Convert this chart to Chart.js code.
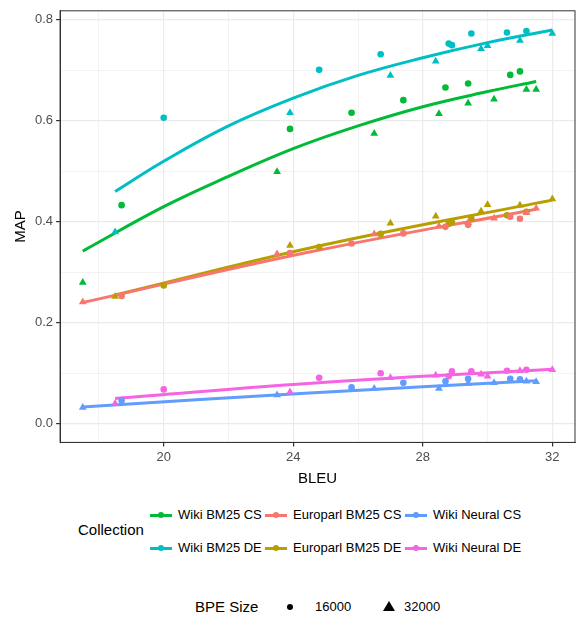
<!DOCTYPE html>
<html>
<head>
<meta charset="utf-8">
<script src="https://cdn.jsdelivr.net/npm/chart.js@4"></script>
<style>
  body { margin: 0; background: #fff; font-family: "Liberation Sans", Arial, sans-serif; }
  #wrap { position: relative; width: 581px; height: 619px; }
  #plot { position: absolute; left: 0; top: 0; width: 581px; height: 492px; }
  .lg { position: absolute; font-size: 13px; color: #000; white-space: nowrap; }
  .sw { position: absolute; width: 22px; height: 3px; }
  .dot { position: absolute; width: 6px; height: 6px; border-radius: 3px; background: #000; }
</style>
</head>
<body>
<div id="wrap">
  <div id="plot"><canvas id="c"></canvas></div>
  <div id="legend"></div>
</div>
<script>
// ---- data ----
const collections = ['Wiki BM25 CS', 'Wiki BM25 DE', 'Europarl BM25 CS', 'Europarl BM25 DE', 'Wiki Neural CS', 'Wiki Neural DE'];
const colors = ['#00BA38', '#00BFC4', '#F8766D', '#B79F00', '#619CFF', '#F564E3'];

// points BPE 16000 (circles) / 32000 (triangles), [bleu, map]
const wikiCs16 = [[18.7,0.433],[23.9,0.584],[25.8,0.616],[27.4,0.641],[28.7,0.666],[29.4,0.674],[30.7,0.691],[31.0,0.698]];
const wikiCs32 = [[17.5,0.28],[23.5,0.499],[26.5,0.575],[28.5,0.614],[29.4,0.635],[30.2,0.643],[31.2,0.662],[31.5,0.662]];
const wikiDe16 = [[20.0,0.606],[24.8,0.701],[26.7,0.732],[28.8,0.753],[28.9,0.750],[29.5,0.773],[30.6,0.775],[31.2,0.778]];
const wikiDe32 = [[18.5,0.38],[23.9,0.616],[27.0,0.69],[28.4,0.718],[29.8,0.743],[30.0,0.749],[31.0,0.759],[32.0,0.773]];
const euroCs16 = [[18.7,0.253],[23.9,0.338],[25.8,0.357],[27.4,0.377],[28.7,0.39],[29.4,0.394],[30.7,0.41],[31.0,0.406]];
const euroCs32 = [[17.5,0.241],[23.5,0.336],[26.5,0.376],[28.5,0.391],[29.4,0.398],[30.2,0.407],[31.2,0.418],[31.5,0.427]];
const euroDe16 = [[20.0,0.274],[24.8,0.35],[26.7,0.376],[28.8,0.396],[28.9,0.399],[29.5,0.406],[30.6,0.413],[31.2,0.42]];
const euroDe32 = [[18.5,0.252],[23.9,0.353],[27.0,0.397],[28.4,0.411],[29.8,0.421],[30.0,0.434],[31.0,0.433],[32.0,0.445]];
const neurCs16 = [[18.7,0.046],[25.8,0.072],[27.4,0.081],[28.7,0.084],[29.4,0.089],[30.7,0.089],[31.0,0.088]];
const neurCs32 = [[17.5,0.032],[23.5,0.057],[26.5,0.070],[28.5,0.070],[29.4,0.080],[30.2,0.081],[31.2,0.084],[31.5,0.083]];
const neurDe16 = [[20.0,0.068],[24.8,0.091],[26.7,0.100],[28.8,0.094],[28.9,0.104],[29.5,0.104],[30.6,0.105],[31.2,0.107]];
const neurDe32 = [[18.5,0.040],[23.9,0.063],[27.0,0.091],[28.4,0.096],[29.8,0.098],[30.0,0.094],[31.0,0.105],[32.0,0.107]];

// fitted trend lines
const fitWikiCs = [[17.5,0.342],[20,0.43],[22,0.49],[24,0.545],[26,0.59],[28,0.628],[30,0.658],[31.5,0.678]];
const fitWikiDe = [[18.5,0.46],[20,0.52],[22,0.59],[24,0.645],[26,0.69],[28,0.725],[30,0.755],[32,0.78]];
const fitEuroCs = [[17.5,0.24],[24.5,0.34],[31.5,0.425]];
const fitEuroDe = [[18.5,0.255],[25,0.355],[32,0.443]];
const fitNeurCs = [[17.5,0.033],[24.5,0.061],[31.5,0.085]];
const fitNeurDe = [[18.5,0.05],[25,0.082],[32,0.108]];

const xTicks = [18, 20, 22, 24, 26, 28, 30, 32];
const xLabels = [20, 24, 28, 32];
const yTicks = [0, 0.1, 0.2, 0.3, 0.4, 0.5, 0.6, 0.7, 0.8];
const yLabels = [0, 0.2, 0.4, 0.6, 0.8];

const pts = a => a.map(p => ({ x: p[0], y: p[1] }));
const groups = [
  [wikiCs16, wikiCs32, fitWikiCs], [wikiDe16, wikiDe32, fitWikiDe],
  [euroCs16, euroCs32, fitEuroCs], [euroDe16, euroDe32, fitEuroDe],
  [neurCs16, neurCs32, fitNeurCs], [neurDe16, neurDe32, fitNeurDe]
];

const datasets = [];
groups.forEach((g, i) => {
  datasets.push({ type: 'line', data: pts(g[2]), borderColor: colors[i], borderWidth: 3,
    pointRadius: 0, tension: 0.4, fill: false, order: 2 });
  datasets.push({ type: 'scatter', data: pts(g[0]), backgroundColor: colors[i], borderWidth: 0,
    pointStyle: 'circle', pointRadius: 3.3, order: 1 });
  datasets.push({ type: 'scatter', data: pts(g[1]), backgroundColor: colors[i], borderWidth: 0,
    pointStyle: 'triangle', pointRadius: 4.5, order: 1 });
});

const isLab = (labels, v) => labels.some(l => Math.abs(l - v) < 1e-9);
const gridWidth = labels => ctx => (ctx.tick && isLab(labels, ctx.tick.value)) ? 1.2 : 0.6;

new Chart(document.getElementById('c'), {
  type: 'scatter',
  data: { datasets },
  options: {
    responsive: true, maintainAspectRatio: false, animation: false,
    layout: { padding: { left: 8, right: 6, top: 4, bottom: 0 } },
    plugins: { legend: { display: false }, tooltip: { enabled: false } },
    scales: {
      x: {
        type: 'linear', min: 16.8, max: 32.7,
        afterBuildTicks: s => { s.ticks = xTicks.map(v => ({ value: v })); },
        ticks: { color: '#4d4d4d', font: { size: 13, family: 'Liberation Sans' }, autoSkip: false,
          maxRotation: 0, callback: v => xLabels.includes(v) ? String(v) : '' },
        grid: { color: '#ebebeb', lineWidth: gridWidth(xLabels), tickLength: 4,
          tickColor: ctx => isLab(xLabels, ctx.tick.value) ? '#333' : 'rgba(0,0,0,0)' },
        border: { color: '#333', width: 1 },
        title: { display: true, text: 'BLEU', color: '#000', font: { size: 15, family: 'Liberation Sans' }, padding: { top: 2 } }
      },
      y: {
        type: 'linear', min: -0.037, max: 0.818,
        afterBuildTicks: s => { s.ticks = yTicks.map(v => ({ value: v })); },
        ticks: { color: '#4d4d4d', font: { size: 13, family: 'Liberation Sans' }, autoSkip: false,
          callback: v => isLab(yLabels, v) ? v.toFixed(1) : '' },
        grid: { color: '#ebebeb', lineWidth: gridWidth(yLabels), tickLength: 4,
          tickColor: ctx => isLab(yLabels, ctx.tick.value) ? '#333' : 'rgba(0,0,0,0)' },
        border: { color: '#333', width: 1 },
        title: { display: true, text: 'MAP', color: '#000', font: { size: 15, family: 'Liberation Sans' }, padding: { bottom: 2 } }
      }
    }
  },
  plugins: [{
    id: 'frame',
    afterDraw: c => {
      const a = c.chartArea, ctx = c.ctx;
      ctx.save(); ctx.strokeStyle = '#333'; ctx.lineWidth = 1;
      ctx.strokeRect(a.left, a.top, a.right - a.left, a.bottom - a.top);
      ctx.restore();
    }
  }]
});

// ---- legend (HTML) ----
const lg = document.getElementById('legend');
function add(html) { lg.insertAdjacentHTML('beforeend', html); }
add('<div class="lg" style="left:78px;top:521px;font-size:15px">Collection</div>');
const colX = [150, 265, 405];
const rowY = [507, 540];
const order = [[0, 2, 4], [1, 3, 5]];
order.forEach((row, r) => row.forEach((idx, cIdx) => {
  const x = colX[cIdx], y = rowY[r];
  add(`<div class="sw" style="left:${x}px;top:${y + 7}px;background:${colors[idx]}"></div>`);
  add(`<div class="dot" style="left:${x + 8}px;top:${y + 5}px;background:${colors[idx]}"></div>`);
  add(`<div class="lg" style="left:${x + 28}px;top:${y}px">${collections[idx]}</div>`);
}));
add('<div class="lg" style="left:195px;top:598px;font-size:15px">BPE Size</div>');
add('<div class="dot" style="left:287px;top:604px"></div>');
add('<div class="lg" style="left:315px;top:599px">16000</div>');
add('<svg style="position:absolute;left:383px;top:601px" width="12" height="11"><polygon points="6,0 12,10 0,10" fill="#000"/></svg>');
add('<div class="lg" style="left:404px;top:599px">32000</div>');
</script>
</body>
</html>
